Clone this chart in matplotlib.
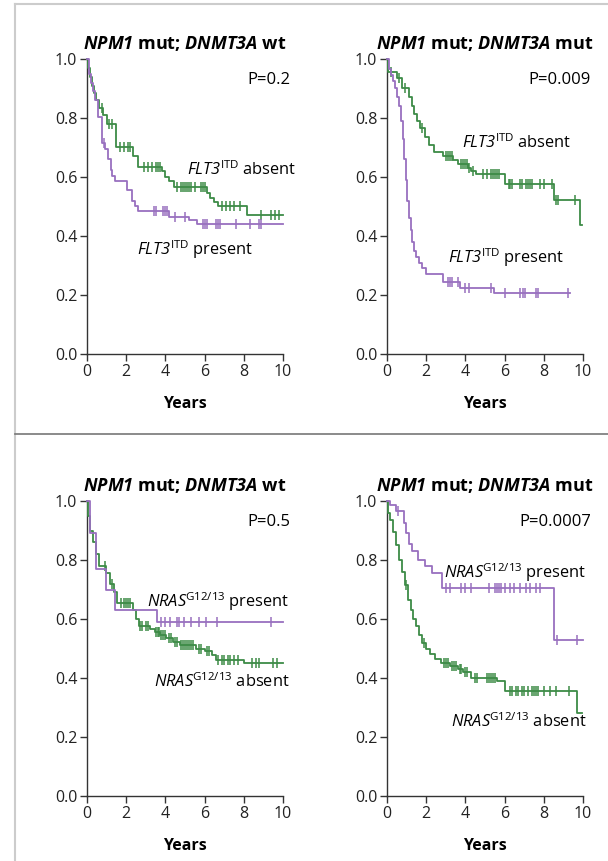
import numpy as np
import matplotlib
matplotlib.use("Agg")
import matplotlib.pyplot as plt
from matplotlib.lines import Line2D

plt.rcParams['font.family'] = ['Open Sans', 'DejaVu Sans']
plt.rcParams['mathtext.fontset'] = 'custom'
plt.rcParams['mathtext.rm'] = 'Open Sans'
plt.rcParams['mathtext.it'] = 'Open Sans:italic'
plt.rcParams['mathtext.bf'] = 'Open Sans:bold'
# cal/sf used as plain italic / bold italic so digits stay slanted too
plt.rcParams['mathtext.cal'] = 'Open Sans:italic'
plt.rcParams['mathtext.sf'] = 'Open Sans:bold:italic'

GREEN = '#3d8b47'
PURPLE = '#9870bf'

# top left: NPM1 mut; DNMT3A wt, FLT3-ITD
tl_abs_t = [0, 0.05, 0.15, 0.25, 0.35, 0.45, 0.6, 0.8, 1.0, 1.5, 2.35, 2.6, 3.85, 4.0, 4.2, 4.45, 6.1, 6.3, 6.5, 6.7, 8.15]
tl_abs_s = [1.0, 0.97, 0.94, 0.91, 0.885, 0.86, 0.835, 0.81, 0.78, 0.70, 0.67, 0.635, 0.62, 0.60, 0.585, 0.565, 0.545, 0.53, 0.515, 0.50, 0.47]
tl_abs_end = 10.0
tl_abs_cens = [0.75, 1.1, 1.3, 1.7, 1.9, 2.1, 2.2, 2.9, 3.1, 3.3, 3.5, 3.6, 3.7, 4.6, 4.8, 4.9, 5.0, 5.1, 5.2, 5.3, 5.5,
               5.8, 5.9, 6.0, 6.9, 7.1, 7.3, 7.5, 7.8, 8.9, 9.4, 9.6, 9.8]

tl_pres_t = [0, 0.1, 0.2, 0.3, 0.4, 0.57, 0.75, 0.9, 1.05, 1.2, 1.3, 1.45, 2.05, 2.3, 2.45, 2.6, 4.2, 5.2, 5.6]
tl_pres_s = [1.0, 0.95, 0.92, 0.89, 0.86, 0.805, 0.715, 0.695, 0.66, 0.625, 0.605, 0.585, 0.555, 0.52, 0.50, 0.485, 0.465, 0.455, 0.44]
tl_pres_end = 10.0
tl_pres_cens = [0.85, 3.4, 3.5, 3.9, 4.0, 4.1, 4.5, 5.0, 5.9, 6.0, 6.1, 6.6, 6.7, 6.8, 7.6, 8.3, 8.8, 8.9]

# top right: NPM1 mut; DNMT3A mut, FLT3-ITD
tr_abs_t = [0, 0.05, 0.5, 0.75, 1.1, 1.25, 1.4, 1.55, 1.7, 1.95, 2.15, 2.4, 2.85, 3.35, 3.6, 4.15, 4.3, 4.55, 6.0, 8.5, 9.85]
tr_abs_s = [1.0, 0.957, 0.935, 0.90, 0.87, 0.84, 0.815, 0.79, 0.765, 0.735, 0.71, 0.685, 0.672, 0.658, 0.645, 0.63, 0.62, 0.61, 0.575, 0.522, 0.437]
tr_abs_end = 9.95
tr_abs_cens = [0.2, 0.6, 0.9, 1.8, 3.0, 3.1, 3.2, 3.3, 3.8, 3.9, 4.0, 4.1, 4.2, 4.4, 4.9, 5.1, 5.3, 5.4, 5.5, 5.6, 5.7,
               6.2, 6.3, 6.4, 6.8, 6.9, 7.1, 7.2, 7.3, 7.4, 7.8, 8.0, 8.4, 8.6, 8.7, 9.6]

tr_pres_t = [0, 0.1, 0.2, 0.3, 0.4, 0.5, 0.6, 0.7, 0.8, 0.88, 0.95, 1.02, 1.1, 1.2, 1.3, 1.4, 1.5, 1.65, 1.8, 2.0, 2.85, 3.7, 5.45]
tr_pres_s = [1.0, 0.965, 0.945, 0.925, 0.9, 0.87, 0.84, 0.79, 0.73, 0.66, 0.59, 0.52, 0.46, 0.42, 0.38, 0.35, 0.33, 0.31, 0.29, 0.27, 0.245, 0.225, 0.208]
tr_pres_end = 9.35
tr_pres_cens = [3.1, 3.2, 3.3, 3.6, 4.0, 4.2, 5.3, 6.0, 6.8, 6.95, 7.05, 7.6, 7.7, 9.25]

# bottom left: NPM1 mut; DNMT3A wt, NRAS G12/13
bl_pres_t = [0, 0.15, 0.45, 0.95, 1.45, 3.55]
bl_pres_s = [1.0, 0.89, 0.77, 0.70, 0.63, 0.59]
bl_pres_end = 10.0
bl_pres_cens = [3.8, 4.0, 4.25, 4.6, 4.7, 4.95, 5.3, 5.7, 6.05, 6.65, 9.4]

bl_abs_t = [0, 0.05, 0.15, 0.3, 0.45, 0.6, 0.95, 1.15, 1.4, 1.55, 2.35, 2.5, 2.65, 3.2, 3.45, 3.7, 4.05, 4.4, 4.75, 5.55, 6.0, 6.4, 6.6, 8.0]
bl_abs_s = [1.0, 0.95, 0.90, 0.86, 0.82, 0.78, 0.755, 0.72, 0.69, 0.655, 0.63, 0.60, 0.575, 0.565, 0.555, 0.545, 0.535, 0.523, 0.512, 0.50, 0.49, 0.478, 0.462, 0.45]
bl_abs_end = 10.0
bl_abs_cens = [0.9, 1.3, 1.75, 1.9, 2.0, 2.1, 2.2, 2.7, 2.8, 3.0, 3.1, 3.5, 3.6, 3.65, 3.8, 3.9, 4.0, 4.2, 4.3, 4.5, 4.6,
               4.8, 4.9, 5.0, 5.1, 5.2, 5.3, 5.4, 5.7, 5.8, 6.1, 6.2, 6.7, 6.9, 7.0, 7.2, 7.3, 7.5, 7.7, 8.4, 8.6, 8.8, 9.5, 9.7]

# bottom right: NPM1 mut; DNMT3A mut, NRAS G12/13
br_pres_t = [0, 0.15, 0.45, 0.85, 0.95, 1.1, 1.3, 1.6, 1.95, 2.3, 2.8, 8.5]
br_pres_s = [1.0, 0.985, 0.965, 0.925, 0.89, 0.855, 0.83, 0.80, 0.78, 0.755, 0.705, 0.53]
br_pres_end = 10.0
br_pres_cens = [0.55, 3.0, 3.2, 3.8, 4.0, 4.3, 5.2, 5.5, 5.6, 5.7, 5.8, 6.0, 6.3, 6.5, 6.8, 7.1, 7.3, 7.6, 7.8, 8.65, 9.7]

br_abs_t = [0, 0.03, 0.15, 0.3, 0.45, 0.6, 0.75, 0.9, 1.05, 1.2, 1.35, 1.5, 1.65, 1.8, 2.0, 2.2, 2.45, 2.75, 3.2, 3.6, 3.9, 4.3, 5.6, 6.0, 9.7]
br_abs_s = [1.0, 0.96, 0.935, 0.895, 0.85, 0.80, 0.76, 0.715, 0.665, 0.63, 0.60, 0.575, 0.545, 0.52, 0.50, 0.48, 0.465, 0.45, 0.44, 0.43, 0.42, 0.40, 0.39, 0.355, 0.28]
br_abs_end = 9.95
br_abs_cens = [0.95, 1.9, 2.9, 3.0, 3.1, 3.3, 3.4, 3.5, 3.7, 3.8, 4.0, 4.1, 4.5, 4.6, 5.1, 5.2, 5.3, 5.4, 5.5,
               6.3, 6.4, 6.6, 6.7, 6.9, 7.0, 7.2, 7.4, 7.5, 7.6, 7.7, 8.0, 8.3, 8.6, 9.3]

titles = [r"$\mathsf{NPM1}$ mut; $\mathsf{DNMT3A}$ wt",
          r"$\mathsf{NPM1}$ mut; $\mathsf{DNMT3A}$ mut",
          r"$\mathsf{NPM1}$ mut; $\mathsf{DNMT3A}$ wt",
          r"$\mathsf{NPM1}$ mut; $\mathsf{DNMT3A}$ mut"]
pvals = ["P=0.2", "P=0.009", "P=0.5", "P=0.0007"]


def km(ax, t, s, end, cens, color):
    ts = list(t) + [end]
    ss = list(s) + [s[-1]]
    ax.step(ts, ss, where='post', color=color, lw=1.3, clip_on=False, zorder=3)
    idx = np.searchsorted(t, cens, side='right') - 1
    cy = np.array(s)[idx]
    ax.plot(cens, cy, ls='none', marker='|', ms=6.5, mew=1.1, color=color, clip_on=False, zorder=3)


fig = plt.figure(figsize=(6.08, 8.61), dpi=100)

W, H = 608, 861
pos = [(87, 59), (387, 59), (87, 501), (387, 501)]
axes = []
for (x0, y0) in pos:
    ax = fig.add_axes([x0 / W, 1 - (y0 + 295) / H, 196 / W, 295 / H])
    axes.append(ax)

km(axes[0], tl_abs_t, tl_abs_s, tl_abs_end, tl_abs_cens, GREEN)
km(axes[0], tl_pres_t, tl_pres_s, tl_pres_end, tl_pres_cens, PURPLE)
km(axes[1], tr_abs_t, tr_abs_s, tr_abs_end, tr_abs_cens, GREEN)
km(axes[1], tr_pres_t, tr_pres_s, tr_pres_end, tr_pres_cens, PURPLE)
km(axes[2], bl_abs_t, bl_abs_s, bl_abs_end, bl_abs_cens, GREEN)
km(axes[2], bl_pres_t, bl_pres_s, bl_pres_end, bl_pres_cens, PURPLE)
km(axes[3], br_abs_t, br_abs_s, br_abs_end, br_abs_cens, GREEN)
km(axes[3], br_pres_t, br_pres_s, br_pres_end, br_pres_cens, PURPLE)

flt_abs = r"$\mathcal{FLT3}^{\mathrm{ITD}}$ absent"
flt_pres = r"$\mathcal{FLT3}^{\mathrm{ITD}}$ present"
nras_abs = r"$\mathcal{NRAS}^{\mathrm{G12/13}}$ absent"
nras_pres = r"$\mathcal{NRAS}^{\mathrm{G12/13}}$ present"

fs = 11.8
axes[0].text(10.65, 0.625, flt_abs, ha='right', va='center', fontsize=fs)
axes[0].text(5.5, 0.355, flt_pres, ha='center', va='center', fontsize=fs)
axes[1].text(6.6, 0.715, flt_abs, ha='center', va='center', fontsize=fs)
axes[1].text(6.05, 0.325, flt_pres, ha='center', va='center', fontsize=fs)
axes[2].text(6.7, 0.66, nras_pres, ha='center', va='center', fontsize=fs)
axes[2].text(6.9, 0.387, nras_abs, ha='center', va='center', fontsize=fs)
axes[3].text(6.56, 0.756, nras_pres, ha='center', va='center', fontsize=fs)
axes[3].text(6.74, 0.252, nras_abs, ha='center', va='center', fontsize=fs)

for i, ax in enumerate(axes):
    ax.set_xlim(0, 10)
    ax.set_ylim(0, 1)
    ax.set_xticks([0, 2, 4, 6, 8, 10])
    ax.set_yticks([0.0, 0.2, 0.4, 0.6, 0.8, 1.0])
    ax.set_yticklabels(["0.0", "0.2", "0.4", "0.6", "0.8", "1.0"])
    ax.spines['top'].set_visible(False)
    ax.spines['right'].set_visible(False)
    ax.spines['left'].set_color('#333333')
    ax.spines['bottom'].set_color('#333333')
    ax.spines['left'].set_linewidth(1.0)
    ax.spines['bottom'].set_linewidth(1.0)
    ax.tick_params(direction='out', length=5, width=1.0, color='#333333', labelsize=11.5, pad=2, labelcolor='#222222')
    ax.set_xlabel("Years", fontsize=11.5, fontweight='bold', labelpad=12)
    ax.set_title(titles[i], fontsize=13, fontweight='bold', pad=7)
    ax.text(10.4, 0.93, pvals[i], ha='right', va='center', fontsize=12)
    ax.patch.set_alpha(0)

fig.add_artist(Line2D([15 / W, 1], [1 - 4 / H, 1 - 4 / H], color='#cccccc', lw=1.5))
fig.add_artist(Line2D([15 / W, 15 / W], [0, 1 - 4 / H], color='#cccccc', lw=1.5))
fig.add_artist(Line2D([15 / W, 1], [1 - 434 / H, 1 - 434 / H], color='#777777', lw=1.2))

plt.savefig("out.png", dpi=100)
